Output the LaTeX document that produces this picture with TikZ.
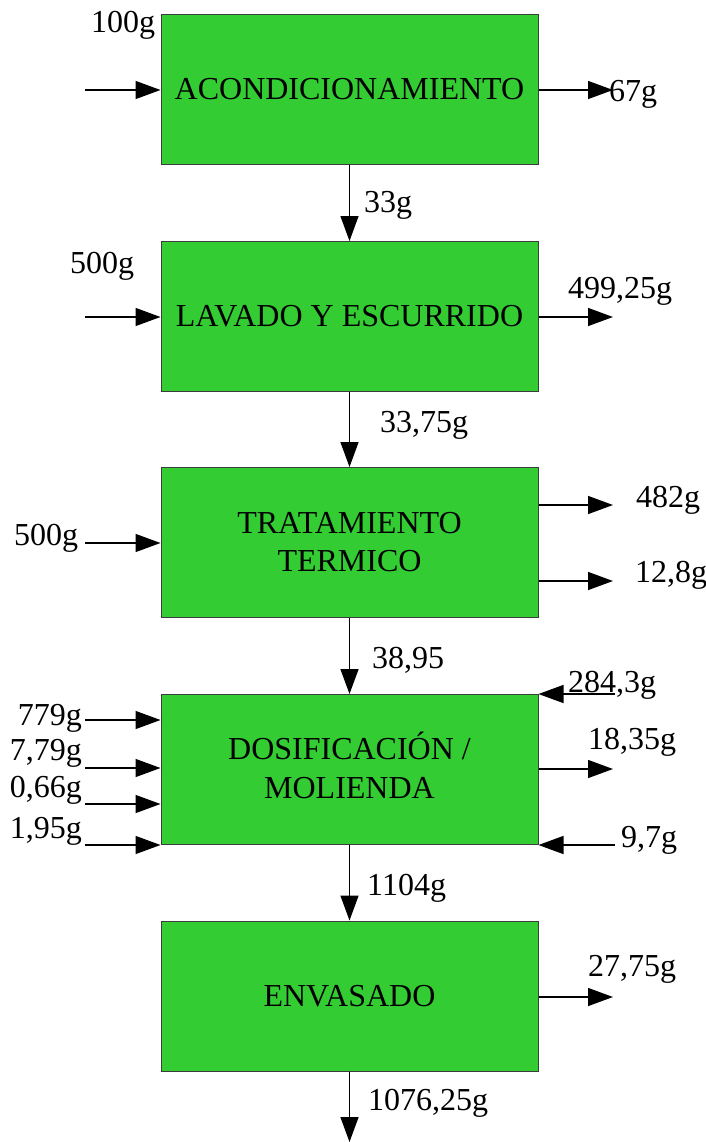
\documentclass[tikz,border=0pt]{standalone}
\usepackage{fontspec}
\setmainfont{Liberation Serif}
\usetikzlibrary{arrows.meta}
\definecolor{procgreen}{RGB}{51,204,51}
\definecolor{boxline}{RGB}{60,60,60}
\tikzset{
  procbox/.style={draw=boxline, line width=1pt, fill=procgreen, minimum width=377pt, minimum height=150pt, inner sep=0pt},
  boxtxt/.style={font=\fontsize{32}{38}\selectfont, inner sep=0pt, anchor=base},
  qty/.style={font=\fontsize{32}{38}\selectfont, inner sep=0pt, anchor=base west},
  qtyr/.style={font=\fontsize{32}{38}\selectfont, inner sep=0pt, anchor=base east},
  flow/.style={line width=1.4pt, -{Triangle[length=25pt,width=18pt]}}
}
\begin{document}
\begin{tikzpicture}[x=1pt,y=-1pt]
\useasboundingbox (0,0) rectangle (705,1142);
% boxes
\node[procbox] (b1) at (349.5,90) {};
\node[procbox] (b2) at (349.5,316.5) {};
\node[procbox] (b3) at (349.5,542.5) {};
\node[procbox] (b4) at (349.5,769.5) {};
\node[procbox] (b5) at (349.5,996) {};
% box texts
\node[boxtxt] (t1) at (349.5,100) {ACONDICIONAMIENTO};
\node[boxtxt] (t2) at (349.5,326) {LAVADO Y ESCURRIDO};
\node[boxtxt] (t3a) at (349.5,533) {TRATAMIENTO};
\node[boxtxt] (t3b) at (349.5,571) {TERMICO};
\node[boxtxt] (t4a) at (349.5,759) {DOSIFICACIÓN /};
\node[boxtxt] (t4b) at (349.5,798) {MOLIENDA};
\node[boxtxt] (t5) at (349.5,1006) {ENVASADO};
% main vertical flows
\draw[flow] (b1.south) -- (b2.north);
\draw[flow] (b2.south) -- (b3.north);
\draw[flow] (b3.south) -- (b4.north);
\draw[flow] (b4.south) -- (b5.north);
\coordinate (out5) at (349.5,1142);
\draw[flow] (b5.south) -- (out5);
% side coordinates
\coordinate (i1) at (85,90);
\coordinate (o1) at (613,90);
\coordinate (i2) at (85,317);
\coordinate (o2) at (613,317);
\coordinate (i3) at (85,543);
\coordinate (o3a) at (613,505);
\coordinate (o3b) at (613,581);
\coordinate (i4a) at (85,720);
\coordinate (i4b) at (85,768);
\coordinate (i4c) at (85,804);
\coordinate (i4d) at (85,845);
\coordinate (r4a) at (615,694);
\coordinate (o4) at (613,769);
\coordinate (r4b) at (615,845);
\coordinate (o5) at (613,997);
% side flows
\draw[flow] (i1) -- (i1 -| b1.west);
\draw[flow] (o1 -| b1.east) -- (o1);
\draw[flow] (i2) -- (i2 -| b2.west);
\draw[flow] (o2 -| b2.east) -- (o2);
\draw[flow] (i3) -- (i3 -| b3.west);
\draw[flow] (o3a -| b3.east) -- (o3a);
\draw[flow] (o3b -| b3.east) -- (o3b);
\draw[flow] (i4a) -- (i4a -| b4.west);
\draw[flow] (i4b) -- (i4b -| b4.west);
\draw[flow] (i4c) -- (i4c -| b4.west);
\draw[flow] (i4d) -- (b4.south west);
\draw[flow] (r4a) -- (b4.north east);
\draw[flow] (o4 -| b4.east) -- (o4);
\draw[flow] (r4b) -- (b4.south east);
\draw[flow] (o5 -| b5.east) -- (o5);
% quantities
\node[qty] (q1) at (91,33) {100g};
\node[qty] (q2) at (609,102) {67g};
\node[qty] (q3) at (364,212) {33g};
\node[qty] (q4) at (70,273) {500g};
\node[qty] (q5) at (568,298) {499,25g};
\node[qty] (q6) at (380,432) {33,75g};
\node[qty] (q7) at (14,545) {500g};
\node[qty] (q8) at (636,507) {482g};
\node[qty] (q9) at (635,582) {12,8g};
\node[qty] (q10) at (372,668) {38,95};
\node[qtyr] (q11) at (82,725) {779g};
\node[qtyr] (q12) at (82,760) {7,79g};
\node[qtyr] (q13) at (82,797) {0,66g};
\node[qtyr] (q14) at (82,838) {1,95g};
\node[qty] (q15) at (568,692) {284,3g};
\node[qty] (q16) at (588,749) {18,35g};
\node[qty] (q17) at (621,847) {9,7g};
\node[qty] (q18) at (367,895) {1104g};
\node[qty] (q19) at (588,976) {27,75g};
\node[qty] (q20) at (368,1110) {1076,25g};
\end{tikzpicture}
\end{document}
